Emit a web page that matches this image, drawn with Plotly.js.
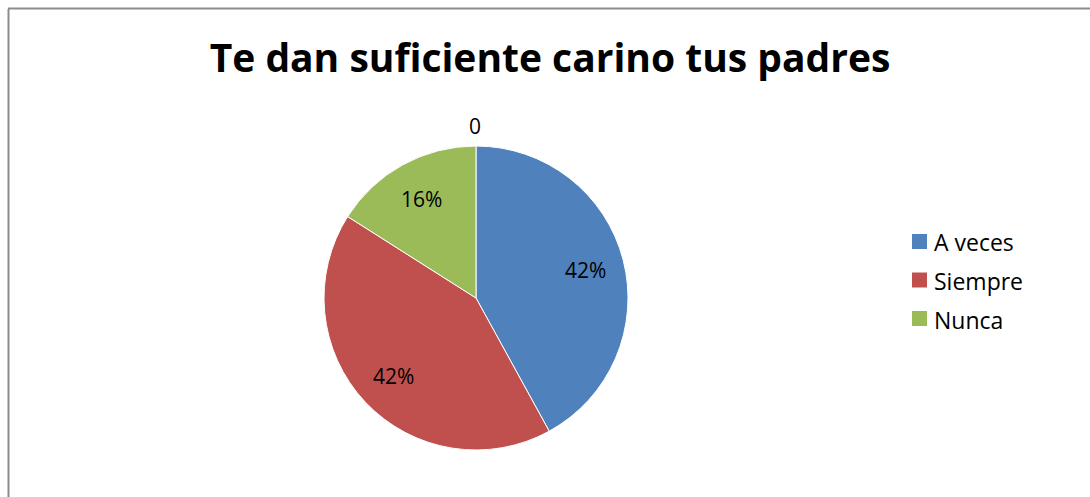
<!DOCTYPE html>
<html>
<head>
<meta charset="utf-8">
<script src="https://cdn.plot.ly/plotly-3.0.1.min.js"></script>
<style>
html,body{margin:0;padding:0;background:#fff;}
#chart{width:1090px;height:497px;}
</style>
</head>
<body>
<div id="chart"></div>
<script>
const categories = ["A veces", "Siempre", "Nunca"];
const values = [42, 42, 16];
const colors = ["#4F81BD", "#C0504D", "#9BBB59"];
const titleText = "Te dan suficiente carino tus padres";
const extraLabel = "0";

const W = 1090, H = 497;
const px = x => x / W;
const py = y => 1 - y / H;
const FONT = "'Open Sans', Lato, sans-serif";

// pie geometry (pixels)
const cx = 476, cy = 298, R = 152;
const labelR = 0.745;

const trace = {
  type: "pie",
  labels: categories,
  values: values,
  sort: false,
  direction: "clockwise",
  rotation: 0,
  marker: {colors: colors, line: {color: "#ffffff", width: 1}},
  textinfo: "none",
  domain: {x: [px(cx - R), px(cx + R)], y: [py(cy + R), py(cy - R)]},
  hoverinfo: "label+percent",
  showlegend: false
};

const total = values.reduce((a, b) => a + b, 0);
const annotations = [];
let cum = 0;
values.forEach((v, i) => {
  const mid = (cum + v / 2) / total * 2 * Math.PI;
  cum += v;
  const x = cx + labelR * R * Math.sin(mid);
  const y = cy - labelR * R * Math.cos(mid);
  annotations.push({
    text: Math.round(v / total * 100) + "%",
    xref: "paper", yref: "paper", x: px(x), y: py(y),
    xanchor: "center", yanchor: "middle", showarrow: false,
    font: {family: FONT, size: 21, color: "#000"}
  });
});
annotations.push({
  text: extraLabel, xref: "paper", yref: "paper",
  x: px(475), y: py(126), xanchor: "center", yanchor: "middle",
  showarrow: false, font: {family: FONT, size: 21, color: "#000"}
});

// legend (built from categories/colors)
const legX = 912, legSq = 15, legY0 = 241.5, legStep = 38.5;
const shapes = [
  {type: "line", xref: "paper", yref: "paper", x0: px(8.5), x1: px(8.5), y0: py(9), y1: 0, line: {color: "#8c8c8c", width: 2}},
  {type: "line", xref: "paper", yref: "paper", x0: px(8), x1: 1, y0: py(8.5), y1: py(8.5), line: {color: "#8c8c8c", width: 2}}
];
categories.forEach((c, i) => {
  const yc = legY0 + i * legStep;
  shapes.push({
    type: "rect", xref: "paper", yref: "paper",
    x0: px(legX), x1: px(legX + legSq), y0: py(yc + legSq / 2), y1: py(yc - legSq / 2),
    fillcolor: colors[i], line: {width: 0}
  });
  annotations.push({
    text: c, xref: "paper", yref: "paper", x: px(legX + 20), y: py(yc + 1),
    xanchor: "left", yanchor: "middle", showarrow: false,
    font: {family: FONT, size: 23, color: "#000"}
  });
});

const layout = {
  width: W, height: H,
  margin: {l: 0, r: 0, t: 0, b: 0},
  paper_bgcolor: "#fff",
  showlegend: false,
  title: {
    text: "<b>" + titleText + "</b>",
    x: px(550), xanchor: "center",
    y: py(58), yanchor: "middle",
    font: {family: FONT, size: 39, color: "#000"}
  },
  annotations: annotations,
  shapes: shapes
};

Plotly.newPlot("chart", [trace], layout, {displayModeBar: false, staticPlot: true});
</script>
</body>
</html>
